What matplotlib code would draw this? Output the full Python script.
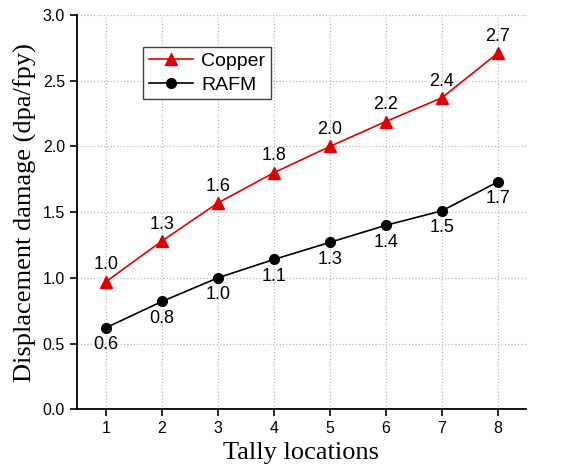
import matplotlib.pyplot as plt
import numpy as np

# tally locations and displacement damage (dpa/fpy)
locations = [1, 2, 3, 4, 5, 6, 7, 8]
copper = [0.97, 1.28, 1.57, 1.80, 2.00, 2.19, 2.37, 2.71]
rafm = [0.62, 0.82, 1.00, 1.14, 1.27, 1.40, 1.51, 1.73]
copper_labels = ["1.0", "1.3", "1.6", "1.8", "2.0", "2.2", "2.4", "2.7"]
rafm_labels = ["0.6", "0.8", "1.0", "1.1", "1.3", "1.4", "1.5", "1.7"]

sans = "Liberation Sans"
serif = "Liberation Serif"

fig = plt.figure(figsize=(5.69, 4.72), dpi=100)
ax = fig.add_axes([0.135, 0.133, 0.789, 0.835])

ax.plot(locations, copper, color="#e00000", marker="^", markersize=8,
        linewidth=1.2, label="Copper")
ax.plot(locations, rafm, color="black", marker="o", markersize=7,
        linewidth=1.2, label="RAFM")

for x, y, t in zip(locations, copper, copper_labels):
    ax.annotate(t, (x, y), xytext=(0, 6), textcoords="offset points",
                ha="center", va="bottom", fontsize=13, family=sans)
for x, y, t in zip(locations, rafm, rafm_labels):
    ax.annotate(t, (x, y), xytext=(0, -6), textcoords="offset points",
                ha="center", va="top", fontsize=13, family=sans)

ax.set_xlim(0.48, 8.5)
ax.set_ylim(0, 3.0)
ax.set_xticks(locations)
ax.set_yticks(np.arange(0, 3.01, 0.5))
ax.set_yticklabels([f"{v:.1f}" for v in np.arange(0, 3.01, 0.5)])
for lab in ax.get_xticklabels() + ax.get_yticklabels():
    lab.set_family(sans)
    lab.set_fontsize(11.5)
ax.tick_params(direction="out", length=5, width=1.2)

ax.grid(True, linestyle=":", color="#b8b8b8", linewidth=0.9)
ax.spines["top"].set_visible(False)
ax.spines["right"].set_visible(False)
ax.spines["left"].set_linewidth(1.3)
ax.spines["bottom"].set_linewidth(1.3)

ax.set_xlabel("Tally locations", family=serif, fontsize=19, labelpad=4)
ax.set_ylabel("Displacement damage (dpa/fpy)", family=serif, fontsize=19,
              labelpad=4)

leg = ax.legend(loc="upper left", bbox_to_anchor=(0.147, 0.92),
                prop={"family": sans, "size": 14}, fancybox=False,
                edgecolor="#404040", framealpha=1, handlelength=2.3,
                borderpad=0.3, labelspacing=0.3, handletextpad=0.4,
                borderaxespad=0)
leg.get_frame().set_linewidth(1.0)

fig.savefig("out.png", dpi=100)
